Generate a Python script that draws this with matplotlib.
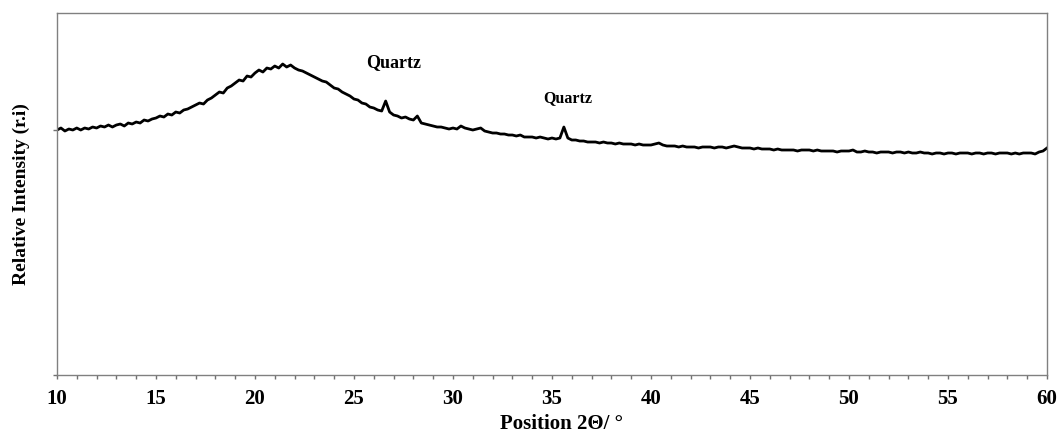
import numpy as np
import matplotlib
matplotlib.use("Agg")
import matplotlib.pyplot as plt
from matplotlib.ticker import MultipleLocator

# scan grid, 0.2 deg steps
two_theta = np.arange(10, 60.001, 0.2)

# intensity, one row per degree (n, n+.2, n+.4, n+.6, n+.8)
intensity = [
    245, 247, 244, 246, 245,
    247, 245, 247, 246, 248,
    247, 249, 248, 250, 248,
    250, 251, 249, 252, 251,
    253, 252, 255, 254, 256,
    257, 259, 258, 261, 260,
    263, 262, 265, 266, 268,
    270, 272, 271, 275, 277,
    280, 283, 282, 287, 289,
    292, 295, 294, 299, 298,
    302, 305, 303, 307, 306,
    309, 307, 311, 308, 310,
    307, 305, 304, 302, 300,
    298, 296, 294, 293, 290,
    287, 286, 283, 281, 279,
    276, 275, 272, 271, 268,
    267, 265, 264, 274, 263,
    260, 259, 257, 258, 256,
    255, 259, 252, 251, 250,
    249, 248, 248, 247, 246,
    247, 246, 249, 247, 246,
    245, 246, 247, 244, 243,
    242, 242, 241, 241, 240,
    240, 239, 240, 238, 238,
    238, 237, 238, 237, 236,
    237, 236, 237, 248, 237,
    235, 235, 234, 234, 233,
    233, 233, 232, 233, 232,
    232, 231, 232, 231, 231,
    231, 230, 231, 230, 230,
    230, 231, 232, 230, 229,
    229, 229, 228, 229, 228,
    228, 228, 227, 228, 228,
    228, 227, 228, 228, 227,
    228, 229, 228, 227, 227,
    227, 226, 227, 226, 226,
    226, 225, 226, 225, 225,
    225, 225, 224, 225, 225,
    225, 224, 225, 224, 224,
    224, 224, 223, 224, 224,
    224, 225, 223, 223, 224,
    223, 223, 222, 223, 223,
    223, 222, 223, 223, 222,
    223, 222, 222, 223, 222,
    222, 221, 222, 222, 221,
    222, 222, 221, 222, 222,
    222, 221, 222, 222, 221,
    222, 222, 221, 222, 222,
    222, 221, 222, 221, 222,
    222, 222, 221, 223, 224,
    227,
]

labels = ["Quartz", "Quartz"]
label_pos = [(27.0, 312), (35.8, 277)]
label_size = [13, 11.5]

plt.rcParams["font.family"] = ["Liberation Serif", "DejaVu Serif"]
plt.rcParams["font.weight"] = "bold"

fig = plt.figure(figsize=(10.61, 4.34), dpi=100)
ax = fig.add_axes([0.0537, 0.136, 0.9331, 0.834])

ax.plot(two_theta, intensity, color="black", lw=2.0)

for t, (px, py), s in zip(labels, label_pos, label_size):
    ax.text(px, py, t, fontsize=s, fontweight="bold", ha="center", va="center")

ax.set_xlim(10, 60)
ax.set_ylim(0, 362)
ax.xaxis.set_major_locator(MultipleLocator(5))
ax.xaxis.set_minor_locator(MultipleLocator(1))
ax.set_yticks([0, 245])
ax.set_yticklabels([])
ax.tick_params(axis="both", which="both", direction="out", colors="#707070",
               labelcolor="black", labelsize=15, length=3, width=1)
ax.tick_params(axis="x", which="major", pad=7)

for sp in ax.spines.values():
    sp.set_color("#808080")
    sp.set_linewidth(1)

ax.set_xlabel("Position 2\u0398/ \u00b0", fontsize=15, fontweight="bold")
ax.xaxis.set_label_coords(0.51, -0.136)
ax.xaxis.label.set_va("center")
ax.set_ylabel("Relative Intensity (r.i)", fontsize=14, fontweight="bold")
ax.yaxis.set_label_coords(-0.036, 0.5)
ax.yaxis.label.set_va("center")

fig.savefig("out.png", dpi=100)
